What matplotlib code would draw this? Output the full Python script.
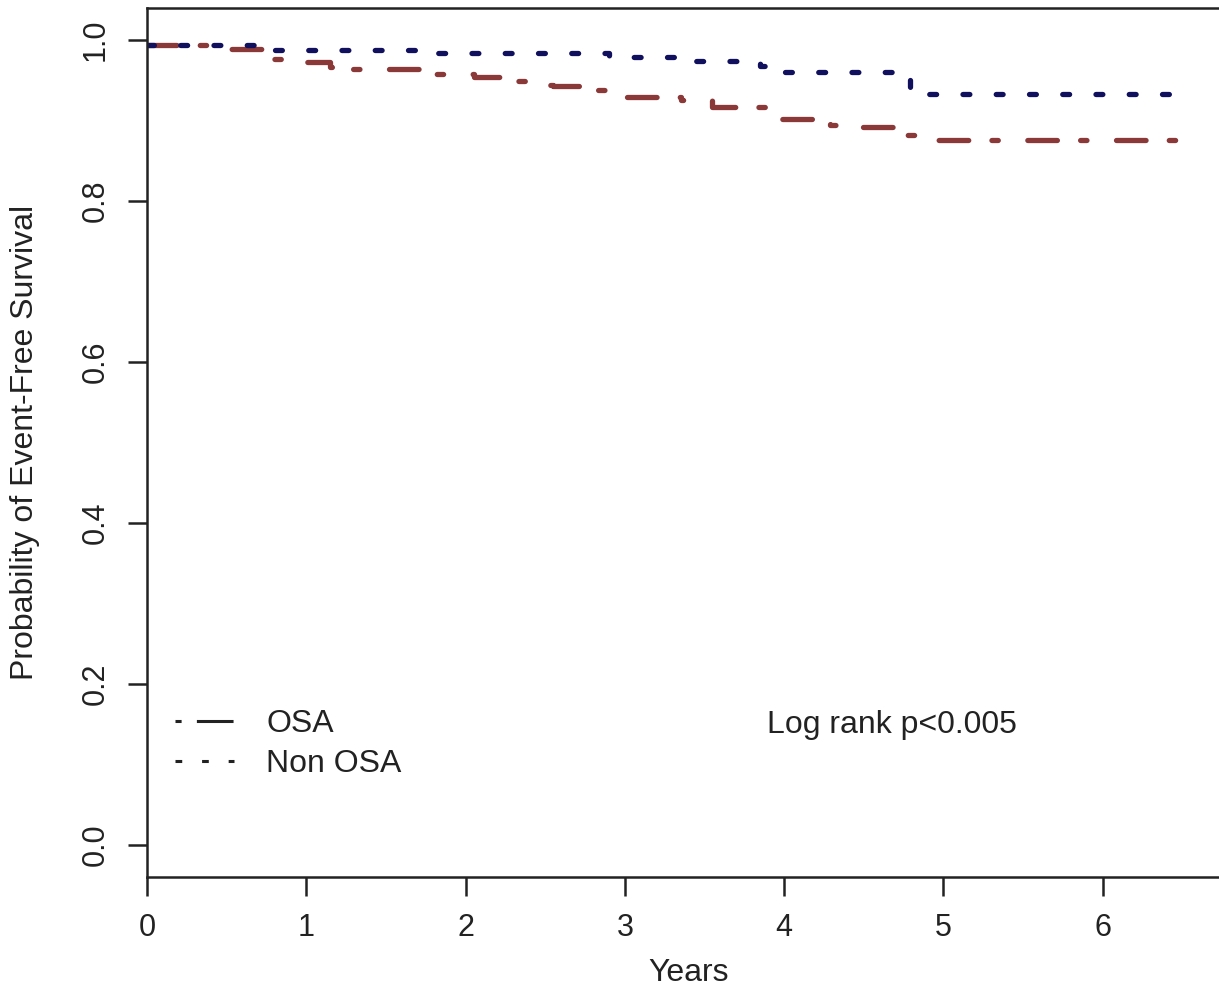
import matplotlib
matplotlib.use("Agg")
import matplotlib.pyplot as plt
from matplotlib.lines import Line2D

plt.rcParams['font.family'] = ['Liberation Sans', 'DejaVu Sans']

# Kaplan-Meier step values
osa_t = [0.0, 0.45, 0.72, 0.78, 0.95, 1.15, 1.28, 1.78, 2.05, 2.28, 2.37, 2.55,
         2.78, 2.88, 3.0, 3.35, 3.55, 3.91, 3.97, 4.29, 4.45, 4.76, 4.82, 6.56]
osa_s = [0.994, 0.988, 0.980, 0.976, 0.972, 0.966, 0.963, 0.957, 0.954, 0.949,
         0.944, 0.942, 0.938, 0.933, 0.929, 0.925, 0.917, 0.908, 0.901, 0.894,
         0.892, 0.882, 0.875, 0.875]

non_t = [0.0, 0.72, 1.8, 2.9, 3.35, 3.85, 3.94, 4.79, 6.56]
non_s = [0.994, 0.987, 0.983, 0.979, 0.973, 0.967, 0.960, 0.932, 0.932]

x_ticks = [0, 1, 2, 3, 4, 5, 6]
y_ticks = [0.0, 0.2, 0.4, 0.6, 0.8, 1.0]

RED = "#8b3838"
BLUE = "#10105e"

W, H = 1219, 986
fig = plt.figure(figsize=(W / 100, H / 100), dpi=100)
ax = fig.add_axes([147 / W, 1 - 877 / H, 1072 / W, 869.5 / H])

lw = 3.8
ax.step(osa_t, osa_s, where='post', color=RED, lw=lw,
        linestyle=(0, (5.6, 4.4, 1.2, 5.6)), dash_capstyle='round')
ax.step(non_t, non_s, where='post', color=BLUE, lw=lw,
        linestyle=(0, (1.3, 5.0)), dash_capstyle='round')

ax.set_xlim(0, 6.73)
ax.set_ylim(-0.04, 1.04)
ax.set_xticks(x_ticks)
ax.set_yticks(y_ticks)
ax.set_xticklabels([str(v) for v in x_ticks])
ax.set_yticklabels([f"{v:.1f}" for v in y_ticks])

for side in ['left', 'bottom', 'top']:
    ax.spines[side].set_linewidth(1.8)
    ax.spines[side].set_color('#222222')
ax.spines['right'].set_visible(False)

ax.tick_params(direction='out', length=14, width=1.8, color='#222222',
               labelsize=22, labelcolor='#222222')
ax.tick_params(axis='x', pad=12)
ax.tick_params(axis='y', pad=12, labelrotation=90)
for lbl in ax.get_yticklabels():
    lbl.set_va('center')

ax.set_ylabel("Probability of Event-Free Survival", fontsize=23, color='#222222')
ax.yaxis.set_label_coords((40 - 147) / 1072, 0.5)
# reference crops this label at the bottom; keep it just inside the canvas
ax.set_xlabel("Years", fontsize=23, color='#222222')
ax.xaxis.set_label_coords((689 - 147) / 1072, (877 - 958) / 869.5)

handles = [
    Line2D([], [], color='#222222', lw=2.2, linestyle=(0, (2, 5, 12, 4))),
    Line2D([], [], color='#222222', lw=2.2, linestyle=(0, (2.2, 6.5))),
]
ax.legend(handles, ["OSA", "Non OSA"], loc='center left',
          bbox_to_anchor=((175 - 147) / 1072, (877 - 744) / 869.5),
          frameon=False, fontsize=23, borderpad=0, borderaxespad=0,
          handlelength=1.85, handletextpad=1.0, labelspacing=0.3,
          labelcolor='#222222')

ax.text(3.89, 0.149, "Log rank p<0.005", fontsize=23, color='#222222',
        ha='left', va='center')

fig.savefig("out.png", dpi=100)
